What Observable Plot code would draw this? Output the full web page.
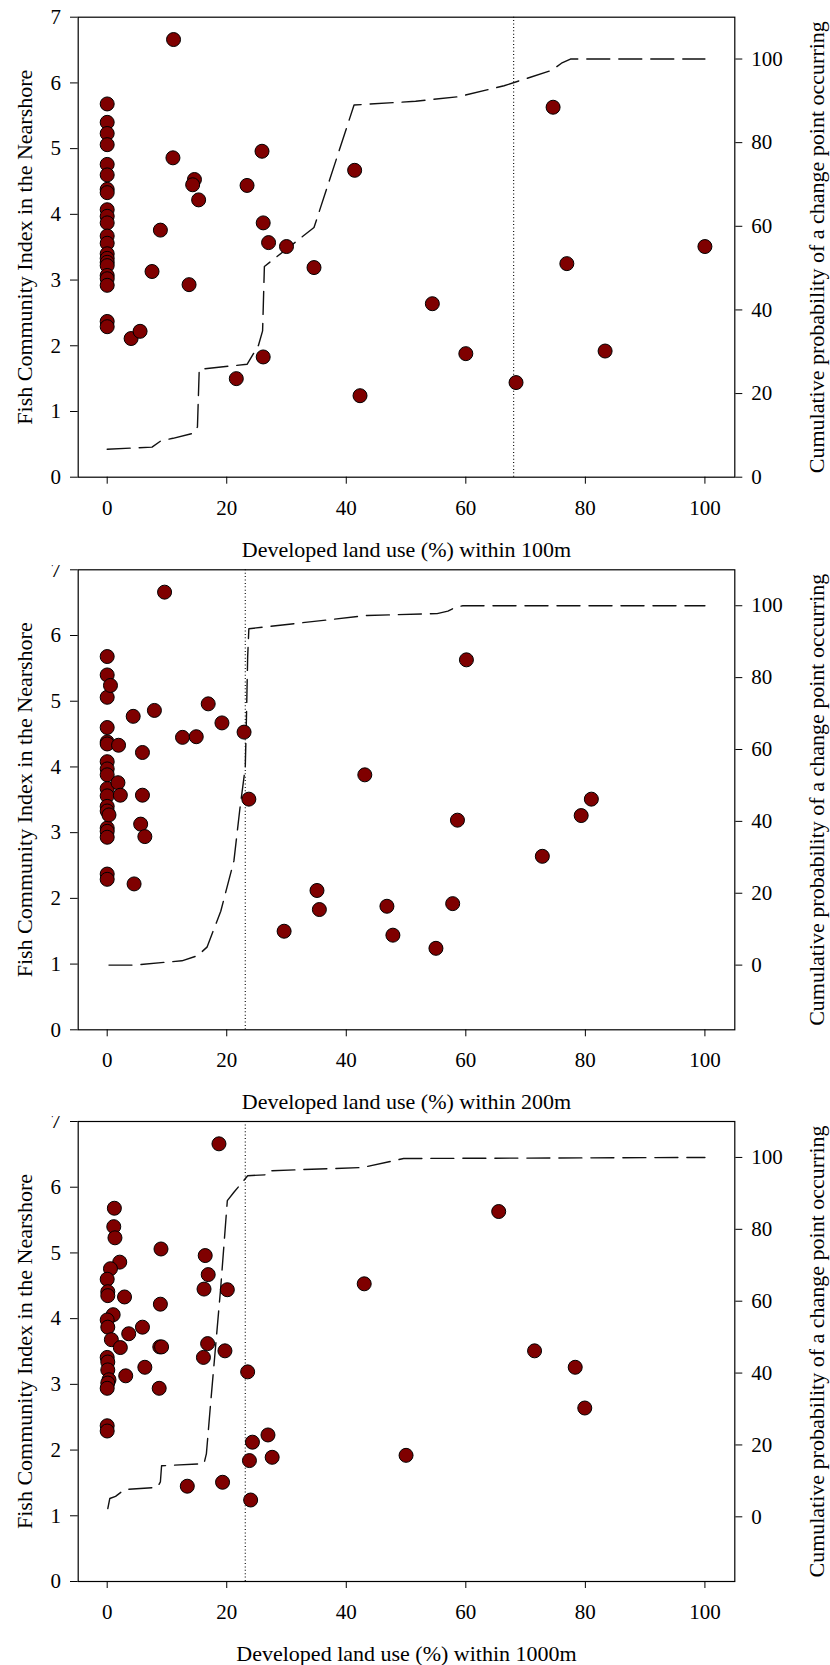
<!DOCTYPE html>
<html><head><meta charset="utf-8">
<script src="https://cdn.jsdelivr.net/npm/d3@7"></script>
<script src="https://cdn.jsdelivr.net/npm/@observablehq/plot@0.6"></script>
<style>
body{margin:0;background:#fff;}
#root{position:relative;width:830px;height:1665px;overflow:hidden;background:#fff;}
.panel{position:absolute;left:0;width:830px;}
.panel svg{position:absolute;left:0;top:0;}
</style></head><body><div id="root"></div>
<script>
const yLabel = "Fish Community Index in the Nearshore";
const pLabel = "Cumulative probability of a change point occurring";
const xLabels = ["Developed land use (%) within 100m", "Developed land use (%) within 200m", "Developed land use (%) within 1000m"];
const xTicks = [0, 20, 40, 60, 80, 100];
const yTicks = [0, 1, 2, 3, 4, 5, 6, 7];
const pTicks = [0, 20, 40, 60, 80, 100];

// Panel 1: 100 m buffer
const dev100 = [0,0,0,0,0,0,0,0,0,0,0,0,0,0,0,0,0,0,0,0,0,0,
  11.1,11.0,14.6,14.3,15.3,8.9,7.5,23.4,25.9,26.1,27.0,30.0,34.6,41.4,13.7,4.0,5.5,21.6,26.1,42.3,74.6,76.9,100,54.4,60.0,68.4,83.3];
const fci100 = [5.68,5.40,5.23,5.06,4.76,4.60,4.38,4.33,4.07,3.97,3.87,3.67,3.56,3.40,3.33,3.27,3.22,3.07,3.02,2.92,2.37,2.29,
  6.66,4.86,4.53,4.45,4.22,3.76,3.13,4.44,4.96,3.87,3.57,3.51,3.19,4.67,2.93,2.11,2.22,1.50,1.83,1.24,5.63,3.25,3.51,2.64,1.88,1.44,1.92];
const cpX100 = [0,7.5,9.0,11.0,14.4,15.1,15.4,23.4,25.3,26.0,26.3,34.6,41.3,51.6,58.8,66.4,74.4,76.0,77.5,100];
const cpP100 = [6.7,7.2,8.7,9.3,10.5,12,25.8,27.0,31.5,35,50.4,59.7,89,89.9,91,93.6,97.3,99,100,100];
const change100 = 68.0;

// Panel 2: 200 m buffer
const dev200 = [0,0,0,0,0,0,0,0,0,0,0,0,0,0,0,0,0,0,0.3,
  9.6,0.55,4.35,7.9,16.9,19.2,22.9,12.6,14.9,1.9,5.9,1.8,2.2,5.9,23.7,43.1,5.6,6.3,4.5,35.1,35.5,29.6,46.8,47.8,72.8,57.8,55.0,60.1,58.6,79.3,81.0];
const fci200 = [5.68,5.40,5.06,4.60,4.38,4.35,4.08,3.97,3.88,3.67,3.56,3.40,3.33,3.07,3.02,2.93,2.37,2.29,3.27,
  6.66,5.24,4.77,4.86,4.96,4.67,4.53,4.45,4.46,4.33,4.22,3.76,3.57,3.57,3.51,3.88,3.13,2.94,2.22,2.12,1.83,1.50,1.88,1.44,2.64,1.92,1.24,5.63,3.19,3.26,3.51];
const cpX200 = [0.3,4.5,12.5,15.1,16.7,19.0,21.2,22.2,23.1,23.3,23.5,23.7,43.5,55.2,57.0,58.3,59.5,100];
const cpP200 = [0,0,1.2,2.6,5,15,29,43.5,55,69,85.7,93.6,97.3,97.8,98.5,99.6,100,100];
const change200 = 23.1;

// Panel 3: 1000 m buffer
const dev1000 = [18.7,1.2,1.1,1.3,9.0,2.1,0.55,0,0.1,0.1,2.9,8.9,1.0,0,0.1,0.7,3.6,5.9,2.2,8.8,9.1,0,0.1,0.1,6.3,3.1,0.3,0.1,0,8.7,
  16.4,16.9,16.2,20.1,16.8,16.1,19.7,23.5,65.5,71.5,78.3,79.9,43.0,0,0,13.4,19.3,24.3,26.9,23.8,27.6,24.0,50.0];
const fci1000 = [6.66,5.68,5.40,5.23,5.06,4.86,4.76,4.60,4.41,4.35,4.33,4.22,4.06,3.98,3.87,3.68,3.77,3.87,3.56,3.57,3.57,3.41,3.34,3.22,3.26,3.13,3.07,3.02,2.94,2.94,
  4.96,4.67,4.45,4.44,3.62,3.41,3.51,3.19,5.63,3.51,3.26,2.64,4.53,2.37,2.29,1.45,1.51,2.12,2.23,1.84,1.89,1.24,1.92];
const cpX1000 = [0.1,0.44,1.4,2.9,8.4,8.9,9.1,16.2,16.6,17.3,19.0,20.1,21.2,23.5,26.8,27.3,42.7,49.6,100];
const cpP1000 = [2.3,5.1,5.7,7.6,8.2,9.7,14.2,14.8,17.6,31.5,63.9,88,90.3,94.9,95.2,96.3,97.2,99.7,100];
const change1000 = 23.1;

const panels = [
  {dev: dev100, fci: fci100, cpX: cpX100, cpP: cpP100, change: change100, xLabel: xLabels[0], top: 0, height: 565, mt: 16.7, pDomain: [0, 110]},
  {dev: dev200, fci: fci200, cpX: cpX200, cpP: cpP200, change: change200, xLabel: xLabels[1], top: 565, height: 551, mt: 4.3, pDomain: [-18, 110]},
  {dev: dev1000, fci: fci1000, cpX: cpX1000, cpP: cpP1000, change: change1000, xLabel: xLabels[2], top: 1116, height: 549, mt: 5, pDomain: [-18, 110]}
];

const FONT = "'Liberation Serif', 'Times New Roman', serif";
const ML = 77.7, MR = 95.7, FRAME_H = 460;
const xDomain = [-4.85, 105];
const fmt = d => String(d);
const root = document.getElementById("root");

for (const p of panels) {
  const mb = p.height - p.mt - FRAME_H;
  const pts = p.dev.map((d, i) => ({x: d, y: p.fci[i]}));
  const cp = p.cpX.map((d, i) => ({x: d, p: p.cpP[i]}));
  const div = document.createElement("div");
  div.className = "panel";
  div.style.top = p.top + "px";
  div.style.height = p.height + "px";
  root.appendChild(div);

  const common = {
    width: 830, height: p.height,
    marginLeft: ML, marginRight: MR, marginTop: p.mt, marginBottom: mb,
    style: {fontFamily: FONT, fontSize: "21px", background: "transparent", color: "black", overflow: "hidden"}
  };

  // Secondary chart: cumulative probability (right axis)
  const secondary = Plot.plot({
    ...common,
    x: {domain: xDomain, axis: null},
    y: {domain: p.pDomain},
    marks: [
      Plot.ruleX([p.change], {stroke: "black", strokeWidth: 1.1, strokeDasharray: "1,2.4"}),
      Plot.line(cp, {x: "x", y: "p", stroke: "#111", strokeWidth: 1.4, strokeDasharray: "23,9"}),
      Plot.axisY(pTicks, {anchor: "right", tickSize: 7, tickPadding: 9.5, label: null, fontSize: 21, tickFormat: fmt}),
      Plot.text([pLabel], {frameAnchor: "right", textAnchor: "middle", rotate: -90, dx: 89, lineAnchor: "bottom", fontSize: 22, fill: "black"})
    ]
  });

  // Primary chart: fish community index (left axis)
  const primary = Plot.plot({
    ...common,
    x: {domain: xDomain},
    y: {domain: [0, 7]},
    marks: [
      Plot.frame({stroke: "black", strokeWidth: 1.2}),
      Plot.axisX(xTicks, {anchor: "bottom", tickSize: 7, tickPadding: 15.4, label: null, fontSize: 21, tickFormat: fmt}),
      Plot.axisY(yTicks, {anchor: "left", tickSize: 7.7, tickPadding: 9.5, label: null, fontSize: 21, tickFormat: fmt}),
      Plot.text([p.xLabel], {frameAnchor: "bottom", textAnchor: "middle", dy: 79.3, lineAnchor: "bottom", fontSize: 22, fill: "black"}),
      Plot.text([yLabel], {frameAnchor: "left", textAnchor: "middle", rotate: -90, dx: -61.8, lineAnchor: "top", fontSize: 22, fill: "black"}),
      Plot.dot(pts, {x: "x", y: "y", r: 7, fill: "#7f0000", stroke: "black", strokeWidth: 1})
    ]
  });

  div.appendChild(secondary);
  div.appendChild(primary);
}
</script>
</body></html>
